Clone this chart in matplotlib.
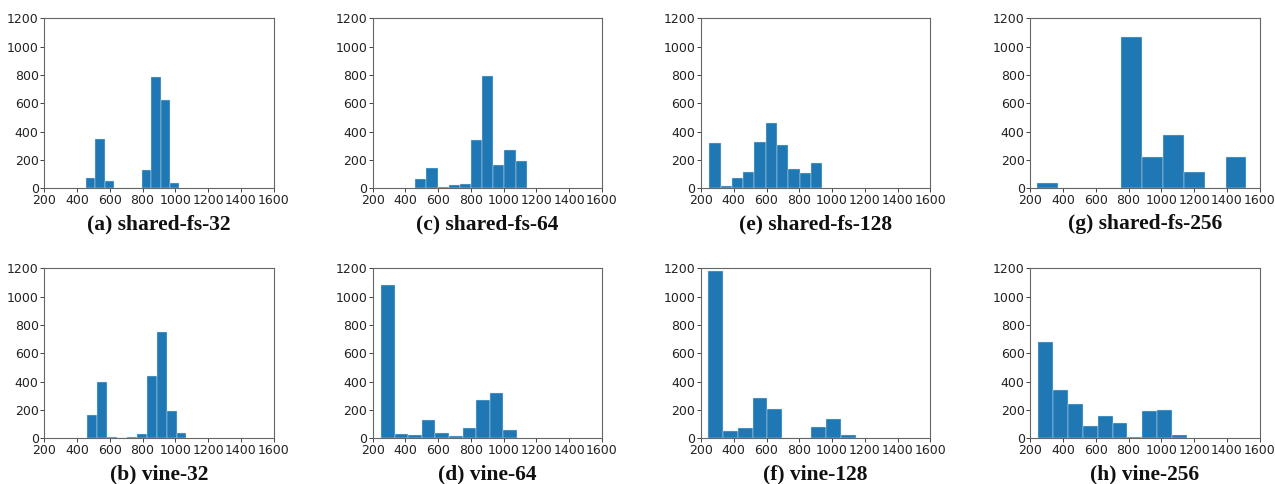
import numpy as np
import matplotlib
matplotlib.use("Agg")
import matplotlib.pyplot as plt

# histogram bin ranges (lo, hi) with 10 bins each, and counts
titles = ["(a) shared-fs-32", "(c) shared-fs-64", "(e) shared-fs-128", "(g) shared-fs-256",
          "(b) vine-32", "(d) vine-64", "(f) vine-128", "(h) vine-256"]

ranges = [(455, 1025), (460, 1140), (251, 939), (239, 1520),
          (463, 1068), (251, 1080), (245, 1144), (249, 1155)]

shared_32 = [70, 345, 50, 0, 0, 0, 130, 785, 625, 40]
shared_64 = [65, 145, 10, 25, 30, 340, 795, 165, 270, 190]
shared_128 = [320, 15, 75, 115, 330, 460, 305, 135, 105, 180]
shared_256 = [40, 0, 4, 0, 1065, 220, 375, 115, 0, 220]
vine_32 = [165, 400, 10, 0, 8, 30, 440, 750, 195, 40]
vine_64 = [1080, 30, 25, 130, 35, 18, 75, 270, 320, 60]
vine_128 = [1180, 55, 70, 285, 210, 5, 3, 78, 135, 22]
vine_256 = [680, 340, 245, 85, 160, 110, 8, 190, 200, 25]

counts = [shared_32, shared_64, shared_128, shared_256,
          vine_32, vine_64, vine_128, vine_256]

xticks = [200, 400, 600, 800, 1000, 1200, 1400, 1600]
yticks = [0, 200, 400, 600, 800, 1000, 1200]

W, H = 1275, 484
fig = plt.figure(figsize=(W / 100, H / 100), dpi=100)

lefts = [44.3, 372.7, 701.0, 1030.3]
aw = 229.3
tops = [18.3, 268.3]
ah = 170.0

for i in range(8):
    row, col = divmod(i, 4)
    l = lefts[col]
    t = tops[row]
    ax = fig.add_axes([l / W, 1 - (t + ah) / H, aw / W, ah / H])
    lo, hi = ranges[i]
    edges = np.linspace(lo, hi, len(counts[i]) + 1)
    ax.bar(edges[:-1], counts[i], width=np.diff(edges), align='edge',
           color='#1f77b4', edgecolor='#d6e6f2', linewidth=0.3)
    ax.set_xlim(200, 1600)
    ax.set_ylim(0, 1200)
    ax.set_xticks(xticks)
    ax.set_yticks(yticks)
    ax.tick_params(labelsize=9, length=3, pad=1, colors='#222222', width=0.6)
    for s in ax.spines.values():
        s.set_color('#666666')
        s.set_linewidth(0.8)
    ax.text(0.5, -0.21, titles[i], transform=ax.transAxes, ha='center', va='center',
            fontsize=15.5, fontweight='bold', family='Liberation Serif', color='#111111')

fig.savefig("out.png", dpi=100)
